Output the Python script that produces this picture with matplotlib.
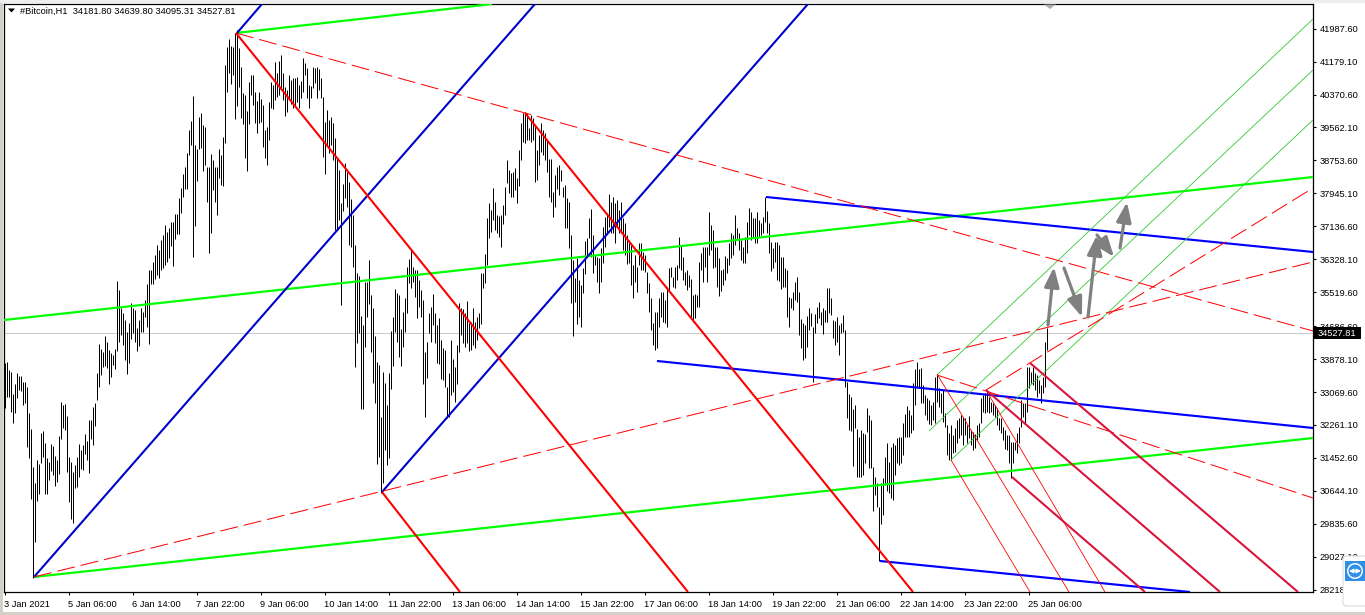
import matplotlib
matplotlib.use("Agg")
import matplotlib.pyplot as plt
from matplotlib.patches import Rectangle, Polygon, Circle, FancyBboxPatch
from matplotlib.transforms import ScaledTranslation

plt.rcParams['font.family'] = ['Liberation Sans', 'DejaVu Sans']
plt.rcParams['text.antialiased'] = True

TITLE = "#Bitcoin,H1  34181.80 34639.80 34095.31 34527.81"
LAST_PRICE = 34527.81
X_TICK_BARS = [0, 32, 64, 96, 128, 160, 192, 224, 256, 288, 320, 352, 384, 416, 448, 480, 512]
X_TICK_LABELS = ["3 Jan 2021", "5 Jan 06:00", "6 Jan 14:00", "7 Jan 22:00", "9 Jan 06:00", "10 Jan 14:00",
                 "11 Jan 22:00", "13 Jan 06:00", "14 Jan 14:00", "15 Jan 22:00", "17 Jan 06:00", "18 Jan 14:00",
                 "19 Jan 22:00", "21 Jan 06:00", "22 Jan 14:00", "23 Jan 22:00", "25 Jan 06:00"]
Y_TICKS = [41987.60, 41179.10, 40370.60, 39562.10, 38753.60, 37945.10, 37136.60, 36328.10, 35519.60,
           34686.60, 33878.10, 33069.60, 32261.10, 31452.60, 30644.10, 29835.60, 29027.10, 28218.60]

# hourly highs and lows
high_a = [33774,33807,33610,33561,33013,33267,33529,33463,33463,33308,33324,33201,32547,32163,31238,30829,31402,31304,32056,32113,
          31827,31443,31361,31794,31754,31500,31402,31991,32825,32743,32776,32490,31475,31344,31116,31279,31484,31794,31647,31770,
          32040,31876,32383,32383,32711,32809,33529,34248,34126,34060,34445,34306,34101,34019,33979,34126,35803,35574,35124,35017,
          34837,34551,34756,35246,35124,35083,34633,34837,35124,35042,35328,35721,36064,36064,36260,36432,36678,36555,36800,36923,
          37169,36997,37095]
low_a = [32670,32956,32956,32588,32302,32547,32915,33120,33095,32751,32792,31729,31443,30445,28506,29390,30404,30567,31336,31484,
         30559,30559,30911,31140,31034,30772,30870,31058,31917,32179,32138,31116,30379,29962,29864,30707,30747,30993,31181,31156,
         31549,31402,31091,31909,31770,32244,32874,33201,33488,33676,33709,33651,33267,33447,33733,33627,34077,34306,34469,34224,
         33856,33512,33774,34363,34510,34306,34085,34199,34551,34551,34903,34674,34240,35721,35721,35843,35942,35868,36064,36113,
         36187,36260,36359]
high_b = [37250,37250,37439,37439,37839,38085,38420,38600,38944,39500,39729,40334,39132,39026,39811,39909,39623,39582,38600,38600,
          38911,38764,38600,38600,39026,38886,39336,41095,41545,41733,41570,41529,41872,41954,41504,41054,40400,40359,39966,40686,
          40850,40850,40441,40220,40441,40253,40113,39500,39582,40195,40686,40604,41160,40891,41193,41340,40891,40563,40482,40850,
          40727,40768,40768,40809,40604,40702,41259,41136,41013,40604,40580,41038,41013,41054,40989,40768,40318,39704,39991,39745,
          39827,39664,39295,38846,38518]
low_b = [36653,36163,36817,36948,36948,37471,37848,38044,38044,38886,39132,36392,37144,38257,39026,39050,38502,38641,37741,36490,
         36980,38028,37725,37414,38314,38150,38134,39189,40441,40891,40629,40850,39770,40089,40563,39786,39639,38805,38502,39639,
         40359,40113,39664,39435,39664,39704,39091,38805,38641,39255,40032,40015,40236,40318,40359,40482,40236,39852,39950,40277,
         40138,40032,40073,40195,40032,40277,40441,40850,40277,40032,40277,40522,40645,40277,40482,40277,38829,38420,39132,38927,
         39132,38764,37046,37046,37291]
high_c = [37700,38166,38698,38477,38216,37798,37414,36678,36000,35917,34935,34714,35778,35778,36310,35451,35124,34444,33798,33733,
          32465,33569,33283,32751,33528,34567,34919,35590,35492,35451,34616,35025,35369,36146,36326,36555,36146,36064,36064,35819,
          35573,35328,34060,34305,35001,35164,35475,35001,34714,34878,34346,34142,34101,33201,33528,34346,33880,33692,34224,35246,
          35124,35099,35001,35303,34755,34796,35124,34796,34919,35001,35982,35982,36457,37332,37717,37537,38068,37741,37414,37398,
          37414,37659,38109,38764,38518,38436,38477,38559,38314,39009]
low_c = [35205,37520,37839,37618,36678,36637,36130,33692,34281,34526,32645,32645,34166,34919,35230,34060,33299,32792,31295,31467,
         30583,30829,31647,31279,31442,33136,33708,34551,34305,33937,33708,34183,34551,35017,35737,35614,35778,35410,34894,35164,
         34919,33267,32465,33406,34510,34305,34714,34281,33774,33757,33381,33365,33201,32424,32465,33000,33078,32833,33267,34060,
         34469,34265,34183,34265,34085,34101,34224,34158,34346,34633,34739,35614,35737,36187,36841,37005,37291,37046,36964,36882,
         36637,37193,37414,38191,37946,37864,37864,38027,37700,38126]
high_d = [39663,39909,39950,39909,39541,39868,39786,39622,39009,39377,39663,39500,39418,39254,38780,38780,37986,38396,38600,38641,
          38518,38109,38150,37823,37741,36923,36310,35860,36350,35819,35696,36105,36784,36841,37332,37561,36923,36432,36391,36350,
          36596,37128,37373,37455,37929,37741,37864,37700,37782,37537,37741,37332,37209,36923,36800,36678,36187,36432,36146,36719,
          36719,36514,36432,36023,35737,35369,34755,35042,35042,35369,35532,35532,35328,35655,36105,36146,35900,36146,36187,36866,
          36678,36391,36023,36064,35941]
low_d = [38764,39214,39173,39254,39254,39214,39254,38232,38273,38641,38968,38886,38764,38477,37864,37741,37373,37602,38044,37905,
         38248,37864,37087,37087,36596,35246,34445,35287,34739,34919,34674,35492,35966,36391,36841,36391,35982,36187,35778,35492,
         35778,36228,36637,36964,37128,36964,36964,36719,37128,36964,36964,36555,36432,36211,36228,35696,35369,35778,35532,36187,
         36064,36064,36023,35492,35042,34592,34224,34101,34142,34674,34919,34796,34755,34674,35532,35900,35655,35614,35819,36105,
         36064,35819,35696,35573,35655]
high_e = [35835,35450,35475,35450,36268,36473,36636,36636,36636,37479,37168,37045,36636,36636,36350,36064,36080,36407,36350,36718,
          36964,36923,37413,37086,36964,36800,36636,36882,37250,37577,37495,37332,37332,37495,37291,37209,37373,37863,37520,37209,
          36759,36595,36759,36759,36677,36391,36391,36105,36064,35409,35368,35532,35778,35900,35532,34853,34755,34714,34935,35123,
          34999,34673,34984,35164,35287,35041,35123,35082,35614,35614,35368,34837,34820,34919,34714,34755,34960]
low_e = [34878,34796,34878,35164,35164,36064,35778,36146,35778,36432,36555,36105,36146,35655,35426,35548,35696,35818,35982,36187,
         36350,36432,36677,36800,36555,36309,36244,36244,36473,36923,36800,36882,36718,36718,36882,36923,36964,37250,36964,36473,
         36047,36105,36268,35818,35802,35589,35655,35655,34919,34673,35123,35082,35328,35287,34469,34141,33855,33896,34182,34591,
         34690,33323,34510,34755,34878,34714,34493,34796,34796,34999,34960,34387,34223,34305,33978,34510,34550]
high_f = [34592,33324,33013,32940,32645,32752,32154,31974,32138,32073,32040,32670,32506,32383,31238,30993,30829,30257,30829,30952,
          31484,31811,31361,31729,31811,31770,31934,31958,31974,32318,32522,32727,32629,32506,33283,33627,33815,33627,33651,33242,
          32997,32915,32874,32752,32833,33447,33488,33161,33038,33120,32547,32261,32056,32261,32015,32179,32383,32424,32506,32465,
          32424,32261,32481,32138,32097,32040,32261,32302,32915,32997,33038,33079,32956,32833,32792,32752,32670,32424,32424,32220,
          32138,32015,32015,31852,31852,31852,32056,32220,32874,32792,32792,33692,33692,33570,33692,33529,33488,33365,33242,33447,
          34306,34639]
low_f = [33201,32424,32138,32122,31255,32179,30976,30993,30993,31034,31320,32097,31197,31197,30158,30543,30257,28931,29831,30052,
         30788,30641,30584,30461,30420,31034,31336,31279,31320,31524,31958,31958,31974,32056,32138,32752,33161,33161,32792,32792,
         32506,32383,32277,32261,32383,32302,32833,32711,32547,32343,32220,31524,31402,31402,31565,31606,31811,31933,32015,31770,
         32015,31811,31933,31770,31647,31688,31893,31974,32302,32588,32547,32588,32547,32588,32506,32465,32261,32138,32056,31893,
         31664,31647,31320,30952,31320,31647,31565,31811,32220,32465,32302,32588,33161,33283,33242,33120,32956,33038,32792,33038,
         33201,34095]
highs = high_a + high_b + high_c + high_d + high_e + high_f
lows = low_a + low_b + low_c + low_d + low_e + low_f

# drawn objects: (bar, price) -> (bar, price)
green_thick = [((14.5, 28531), (654, 31941)), ((-0.5, 34837), (654, 38346)), ((115.5, 41880), (243.5, 42592))]
blue_diag = [((14.5, 28531), (265, 42592)), ((116, 41880), (128.5, 42592)), ((188.5, 30616), (401.5, 42592))]
red_thick = [((115.5, 41880), (341.5, 28162)), ((260, 39917), (454, 28162)), ((188.5, 30616), (227.5, 28162))]
blue_flat = [((380.5, 37856), (654, 36506)), ((326, 33831), (654, 32187)), ((437.5, 28923), (592.5, 28162))]
red_dashed = [((115.5, 41880), (654, 34567)), ((14.5, 28531), (654, 36261)),
              ((466, 33487), (654, 30469)), ((490.5, 33119), (654, 38077))]
green_thin = [((466, 33487), (654, 42224)), ((462, 32113), (654, 40972)), ((473, 31402), (654, 39745))]
red_thin = [((466, 33512), (532, 28162)), ((490.5, 33119), (550, 28162)), ((473, 31402), (512.5, 28162))]
crimson = [((512.5, 33782), (646.5, 28162)), ((490.5, 33119), (607.5, 28162)), ((503.5, 30984), (570, 28162))]
gray_arrows = [((521.5, 34715), (524.5, 36138)), ((529.5, 36113), (538.5, 34911)), ((541.5, 34911), (546, 36923)),
               ((546, 36923), (554.5, 36383)), ((557.5, 36604), (561, 37733))]

W, H = 1365, 615
FS = 6.7
fig = plt.figure(figsize=(W / 100, H / 100), dpi=100, facecolor='white')
ax = fig.add_axes([4 / W, 1 - 592 / H, (1313 - 4) / W, (592 - 4) / H])
ax.set_xlim(-0.5, 654)
ax.set_ylim(28162, 42592)
for s in ax.spines.values():
    s.set_linewidth(0.9)
    s.set_color('black')

ax.axhline(LAST_PRICE, color='#c0c0c0', lw=0.6, zorder=1)
ax.vlines(range(len(highs)), lows, highs, colors='black', lw=0.72, zorder=2, antialiased=True, capstyle='butt')


def draw(segments, color, lw, ls='-', z=3):
    for (a, b) in segments:
        ax.plot([a[0], b[0]], [a[1], b[1]], color=color, lw=lw, ls=ls, zorder=z,
                solid_capstyle='butt', dash_capstyle='butt', antialiased=True)


draw(green_thick, '#00ff00', 1.6)
draw(blue_diag, '#0000cd', 1.5)
draw(blue_flat, '#0000ff', 1.55)
draw(red_thick, '#ff0000', 1.5)
draw(green_thin, '#32c832', 0.6)
draw(red_thin, '#ff0000', 0.6)
draw(red_dashed, '#ff0000', 0.72, ls=(0, (18, 6)))
draw(crimson, '#dc143c', 1.5, z=4)

for (a, b) in gray_arrows:
    ax.annotate('', xy=b, xytext=a, zorder=5,
                arrowprops=dict(arrowstyle='-|>,head_length=0.85,head_width=0.32', color='#808080', lw=2.3,
                                shrinkA=0, shrinkB=0, mutation_scale=14))

ax.set_xticks(X_TICK_BARS)
ax.set_xticklabels(X_TICK_LABELS, fontsize=FS, ha='left')
ax.tick_params(axis='x', length=2.5, width=0.8, pad=3, direction='out', color='black')
shift = ScaledTranslation(-1.5 / 100, 0, fig.dpi_scale_trans)
for lab in ax.get_xticklabels():
    lab.set_transform(lab.get_transform() + shift)
ax.yaxis.tick_right()
ax.set_yticks(Y_TICKS)
ax.set_yticklabels([f"{v:.2f}" for v in Y_TICKS], fontsize=FS)
ax.tick_params(axis='y', length=2.5, width=0.8, pad=2, direction='out', color='black')

ax.text(16 / 1309, 0.9875, TITLE, transform=ax.transAxes, fontsize=FS, va='center', ha='left',
        zorder=8, color='black')

# window furniture, in figure pixels
ov = fig.add_axes([0, 0, 1, 1], facecolor='none', zorder=10)
ov.set_xlim(0, W)
ov.set_ylim(H, 0)
ov.axis('off')
ov.add_patch(Rectangle((0, 0), 2.5, H, color='#d4d0c8', lw=0))
ov.add_patch(Rectangle((0, 0), W, 2.5, color='#eeeeee', lw=0))
ov.add_patch(Rectangle((0, 612), W, 3, color='#d4d0c8', lw=0))
ov.add_patch(Polygon([(8, 8.5), (15, 8.5), (11.5, 12.5)], color='black', lw=0))
ov.add_patch(Polygon([(1044, 4.5), (1056, 4.5), (1050, 9)], color='#b0b0b0', lw=0))
ov.add_patch(Rectangle((1314, 327), 47, 12, color='black', lw=0))
ov.text(1318, 333, f"{LAST_PRICE:.2f}", color='white', fontsize=FS, va='center', ha='left')
ov.add_patch(FancyBboxPatch((1343, 556), 30, 50, boxstyle='round,pad=0,rounding_size=4', fc='white', ec='#d0d0d0', lw=0.6))
ov.add_patch(Rectangle((1345, 561), 20, 20, color='#2f8fe8', lw=0))
ov.add_patch(Circle((1355, 571), 8, color='white', lw=0))
ov.add_patch(Circle((1355, 571), 6.5, color='#2f8fe8', lw=0))
ov.annotate('', xy=(1349, 571), xytext=(1361, 571), arrowprops=dict(arrowstyle='<|-|>', color='white', lw=1.0,
            shrinkA=0, shrinkB=0, mutation_scale=6))

fig.savefig('out.png', dpi=100, facecolor='white')
